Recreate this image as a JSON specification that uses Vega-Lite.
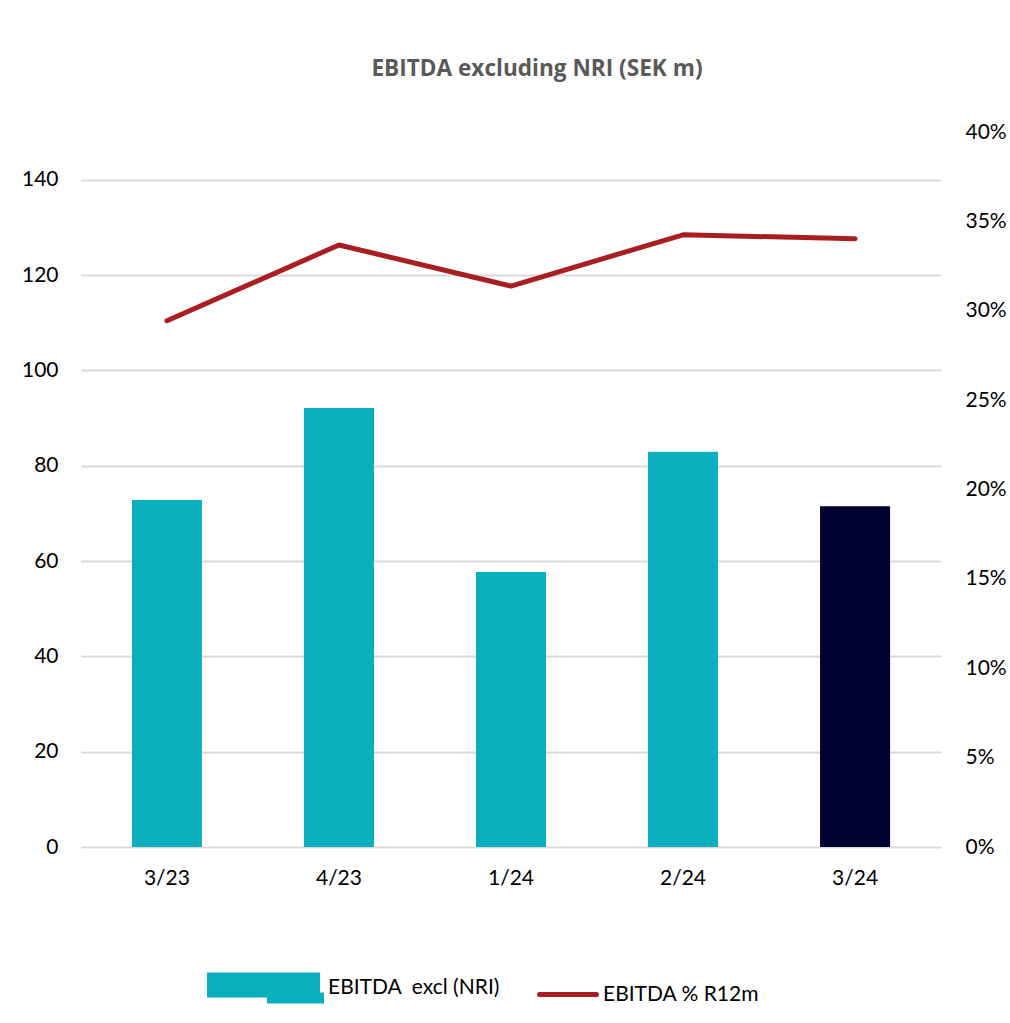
{
  "$schema": "https://vega.github.io/schema/vega-lite/v6.json",
  "width": 860,
  "height": 715,
  "autosize": {"type": "none"},
  "padding": {"left": 81, "top": 132, "right": 69, "bottom": 176},
  "background": "white",
  "title": {
    "text": "EBITDA excluding NRI (SEK m)",
    "font": "Open Sans",
    "fontSize": 22.6,
    "fontWeight": "bold",
    "color": "#595959",
    "anchor": "middle",
    "dx": 26,
    "offset": 40
  },
  "config": {
    "view": {"stroke": null},
    "font": "Lato",
    "axis": {"labelFont": "Lato", "labelFontSize": 21, "labelColor": "#000000", "domain": false, "ticks": false, "title": null},
    "legend": {"layout": {"bottom": {"anchor": "middle"}}}
  },
  "data": {
    "values": [
      {"q": "3/23", "ebitda": 72.8, "margin": 0.2944, "cat": "EBITDA\u00a0 excl (NRI)"},
      {"q": "4/23", "ebitda": 92.1, "margin": 0.3368, "cat": "EBITDA\u00a0 excl (NRI)"},
      {"q": "1/24", "ebitda": 57.7, "margin": 0.3138, "cat": "EBITDA\u00a0 excl (NRI)"},
      {"q": "2/24", "ebitda": 82.9, "margin": 0.3425, "cat": "EBITDA\u00a0 excl (NRI)"},
      {"q": "3/24", "ebitda": 71.5, "margin": 0.3403, "cat": "current"}
    ]
  },
  "encoding": {
    "x": {
      "field": "q",
      "type": "ordinal",
      "sort": null,
      "scale": {"paddingInner": 0.593, "paddingOuter": 0.296},
      "axis": {"labelAngle": 0, "labelPadding": 20, "grid": false}
    }
  },
  "layer": [
    {
      "mark": {"type": "bar"},
      "encoding": {
        "y": {
          "field": "ebitda",
          "type": "quantitative",
          "scale": {"domain": [0, 150], "nice": false},
          "axis": {"values": [0, 20, 40, 60, 80, 100, 120, 140], "grid": true, "gridColor": "#D9D9D9", "gridWidth": 2, "labelPadding": 23}
        },
        "color": {
          "field": "cat",
          "type": "nominal",
          "scale": {"domain": ["EBITDA\u00a0 excl (NRI)", "EBITDA % R12m", "current"], "range": ["#0AAFBD", "#A91E22", "#00032F"]},
          "legend": {
            "values": ["EBITDA\u00a0 excl (NRI)", "EBITDA % R12m"],
            "orient": "bottom",
            "direction": "horizontal",
            "title": null,
            "labelFont": "Lato",
            "labelFontSize": 21,
            "labelColor": "#000000",
            "labelLimit": 400,
            "offset": 69,
            "columnPadding": 29,
            "labelOffset": 4,
            "symbolSize": 3249,
            "symbolStrokeWidth": 5,
            "encode": {
              "symbols": {
                "update": {
                  "shape": {"signal": "datum.value === 'EBITDA % R12m' ? 'M-1,0H1' : 'M-2.93,-0.456H0.86V0.246H-2.93Z M-0.825,0.246H1V0.456H-0.825Z'"},
                  "stroke": {"signal": "datum.value === 'EBITDA % R12m' ? '#A91E22' : 'transparent'"},
                  "strokeCap": {"value": "round"},
                  "opacity": {"value": 1}
                }
              }
            }
          }
        }
      }
    },
    {
      "mark": {"type": "line", "strokeWidth": 5, "strokeCap": "round", "strokeJoin": "round"},
      "encoding": {
        "y": {
          "field": "margin",
          "type": "quantitative",
          "scale": {"domain": [0, 0.4], "nice": false},
          "axis": {"orient": "right", "values": [0, 0.05, 0.1, 0.15, 0.2, 0.25, 0.3, 0.35, 0.4], "format": ".0%", "grid": false, "labelPadding": 24}
        },
        "color": {"datum": "EBITDA % R12m"}
      }
    }
  ],
  "resolve": {"scale": {"y": "independent"}}
}
